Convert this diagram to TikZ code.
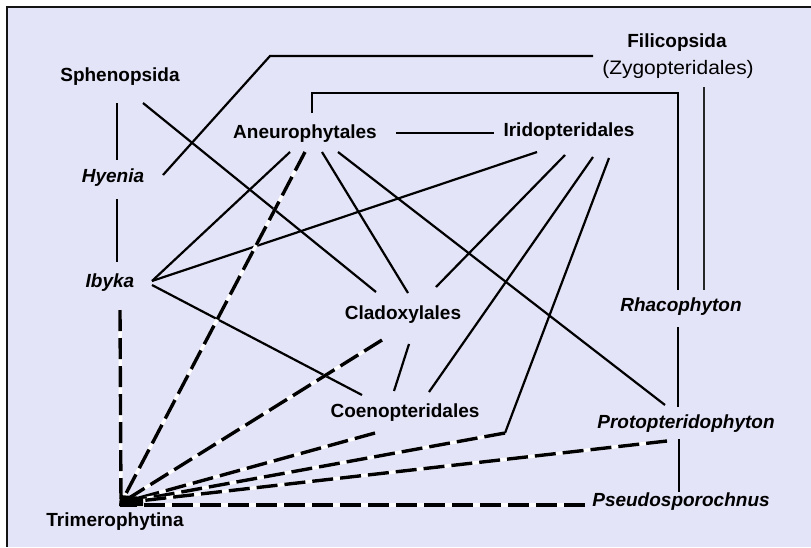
\documentclass[tikz,border=0pt]{standalone}
\usepackage{fontspec}
\usepackage{graphicx}
\setmainfont{Liberation Sans}
\definecolor{panel}{RGB}{228,228,248}
\definecolor{frame}{RGB}{20,20,20}
\tikzset{
  taxon/.style={inner sep=0pt, font=\fontsize{19}{21}\selectfont\bfseries},
  genus/.style={inner sep=0pt, font=\fontsize{19}{21}\selectfont\bfseries\itshape},
  plain/.style={inner sep=0pt, font=\fontsize{19.5}{21}\selectfont},
  link/.style={line width=2.2pt, black},
  thinlink/.style={line width=1.2pt, black!85},
  dashbase/.style={line width=3.4pt, white},
  dashlink/.style={line width=3.4pt, black, dash pattern=on 21pt off 7pt},
}
\begin{document}
\begin{tikzpicture}[x=1pt,y=-1pt]
  \useasboundingbox (0,0) rectangle (811,547);
  % panel and frame
  \fill[white] (0,0) rectangle (811,547);
  \fill[panel] (7,7) rectangle (811,547);
  \draw[frame, line width=2.6pt] (7,547) -- (7,7) -- (811,7);

  % taxon labels
  \node[taxon] (sphen)  at (120,77)  {Sphenopsida};
  \node[genus] (hyen)   at (113,178) {Hyenia};
  \node[genus] (ibyka)  at (110,283) {Ibyka};
  \node[taxon] (trim)   at (115,522) {Trimerophytina};
  \node[taxon] (aneu)   at (305,134) {Aneurophytales};
  \node[taxon] (irido)  at (569,132) {Iridopteridales};
  \node[taxon] (fili)   at (677,43)  {Filicopsida};
  \node[plain] (zygo)   at (678,69)  {\scalebox{1.075}[1]{(Zygopteridales)}};
  \node[taxon] (clado)  at (403,315) {Cladoxylales};
  \node[taxon] (coeno)  at (405,413) {Coenopteridales};
  \node[genus] (rhaco)  at (681,307) {Rhacophyton};
  \node[genus] (proto)  at (686,424) {Protopteridophyton};
  \node[genus] (pseudo) at (681,502) {Pseudosporochnus};

  % connector end points
  \coordinate (sphen-s)  at (117,103);
  \coordinate (sphen-se) at (143,103);
  \coordinate (hyen-n)   at (117,160);
  \coordinate (hyen-s)   at (117,199);
  \coordinate (hyen-e)   at (163,175);
  \coordinate (ibyka-n)  at (117,262);
  \coordinate (ibyka-e)  at (152,281);
  \coordinate (ibyka-se) at (152,285);
  \coordinate (ibyka-s)  at (120,310);
  \coordinate (apex)     at (121,503);
  \coordinate (fili-bend) at (270,56);
  \coordinate (fili-w)   at (593,56);
  \coordinate (aneu-n)   at (312,113);
  \coordinate (aneu-up)  at (312,93);
  \coordinate (rhaco-up) at (678,93);
  \coordinate (rhaco-n)  at (678,290);
  \coordinate (zygo-s)   at (704,87);
  \coordinate (zygo-end) at (704,290);
  \coordinate (rhaco-s)  at (678,327);
  \coordinate (proto-n)  at (678,407);
  \coordinate (proto-nw) at (665,405);
  \coordinate (proto-s)  at (679,439);
  \coordinate (proto-sw) at (667,441);
  \coordinate (pseudo-n) at (679,492);
  \coordinate (pseudo-w) at (585,505);
  \coordinate (apex-b)   at (120,505);
  \coordinate (aneu-e)   at (396,133);
  \coordinate (irido-w)  at (494,133);
  \coordinate (aneu-s1)  at (290,152);
  \coordinate (aneu-s2)  at (305,152);
  \coordinate (aneu-s3)  at (322,152);
  \coordinate (aneu-s4)  at (338,152);
  \coordinate (irido-s1) at (537,152);
  \coordinate (irido-s2) at (565,155);
  \coordinate (irido-s3) at (593,157);
  \coordinate (irido-s4) at (609,158);
  \coordinate (bend)     at (505,433);
  \coordinate (clado-n1) at (376,292);
  \coordinate (clado-n2) at (408,293);
  \coordinate (clado-n3) at (436,287);
  \coordinate (clado-sw) at (382,340);
  \coordinate (clado-s)  at (409,344);
  \coordinate (coeno-nw) at (362,395);
  \coordinate (coeno-n)  at (394,391);
  \coordinate (coeno-ne) at (429,392);
  \coordinate (coeno-sw) at (375,433);

  % solid relationships
  \draw[link] (sphen-s) -- (hyen-n);
  \draw[link] (hyen-s) -- (ibyka-n);
  \draw[link] (hyen-e) -- (fili-bend) -- (fili-w);
  \draw[link] (aneu-n) -- (aneu-up) -- (rhaco-up) -- (rhaco-n);
  \draw[thinlink] (zygo-s) -- (zygo-end);
  \draw[link] (rhaco-s) -- (proto-n);
  \draw[link] (proto-s) -- (pseudo-n);
  \draw[link] (aneu-e) -- (irido-w);
  \draw[link] (sphen-se) -- (clado-n1);
  \draw[link] (aneu-s1) -- (ibyka-e);
  \draw[link] (irido-s1) -- (ibyka-e);
  \draw[link] (ibyka-se) -- (coeno-nw);
  \draw[link] (aneu-s3) -- (clado-n2);
  \draw[link] (aneu-s4) -- (proto-nw);
  \draw[link] (irido-s2) -- (clado-n3);
  \draw[link] (irido-s3) -- (coeno-ne);
  \draw[link] (irido-s4) -- (bend);
  \draw[link] (clado-s) -- (coeno-n);

  % dashed relationships to Trimerophytina
  \foreach \a/\b in {ibyka-s/apex, aneu-s2/apex, clado-sw/apex, coeno-sw/apex,
                     bend/apex, proto-sw/apex, pseudo-w/apex-b} {
    \draw[dashbase] (\a) -- (\b);
    \draw[dashlink] (\a) -- (\b);
  }
  \fill[black] (120,495) -- (143,497) -- (143,506) -- (119,506) -- cycle;
\end{tikzpicture}
\end{document}
